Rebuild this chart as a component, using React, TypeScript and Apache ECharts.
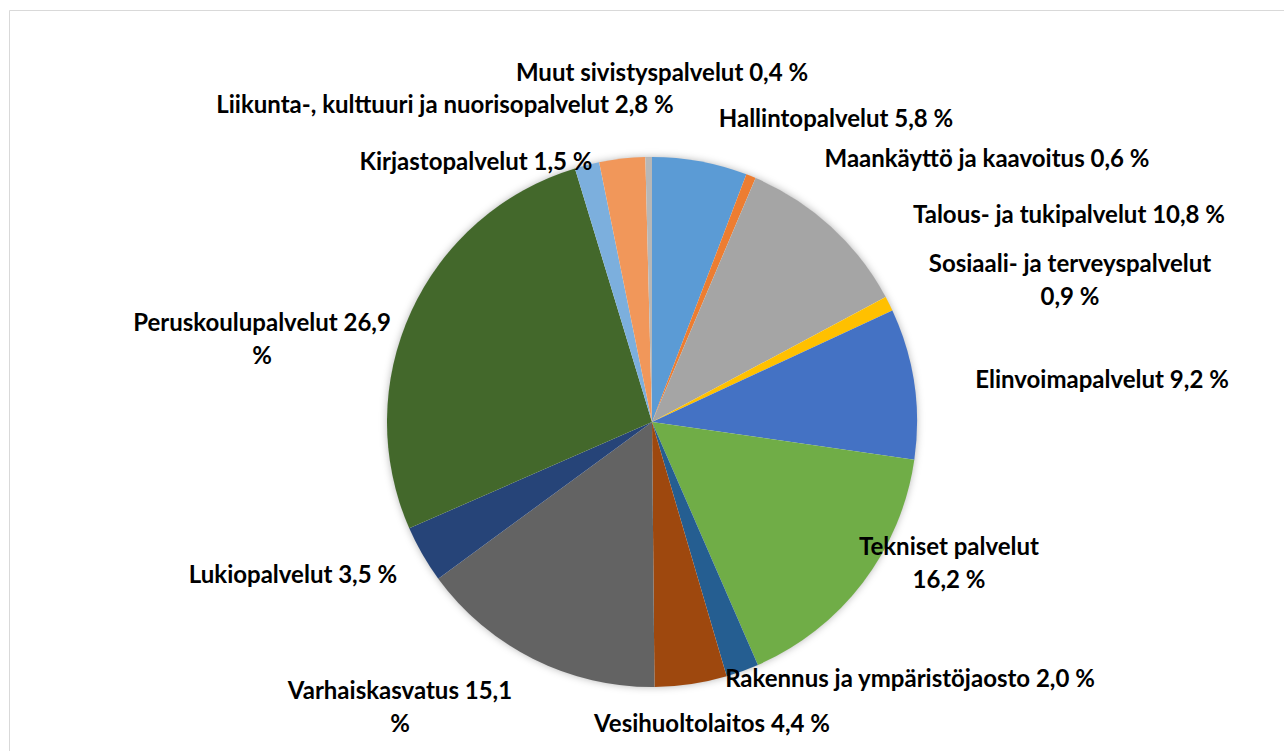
import React, { useEffect, useRef } from "react";
import * as echarts from "echarts";

const categories = [
  "Hallintopalvelut",
  "Maankäyttö ja kaavoitus",
  "Talous- ja tukipalvelut",
  "Sosiaali- ja terveyspalvelut",
  "Elinvoimapalvelut",
  "Tekniset palvelut",
  "Rakennus ja ympäristöjaosto",
  "Vesihuoltolaitos",
  "Varhaiskasvatus",
  "Lukiopalvelut",
  "Peruskoulupalvelut",
  "Kirjastopalvelut",
  "Liikunta-, kulttuuri ja nuorisopalvelut",
  "Muut sivistyspalvelut",
];

const values = [5.8, 0.6, 10.8, 0.9, 9.2, 16.2, 2.0, 4.4, 15.1, 3.5, 26.9, 1.5, 2.8, 0.4];

const colors = [
  "#5B9BD5", "#ED7D31", "#A5A5A5", "#FFC000", "#4472C4", "#70AD47", "#255E91",
  "#9E480E", "#636363", "#264478", "#43682B", "#7CAFDD", "#F1975A", "#B7B7B7",
];

// label wrapping: "name" = break after name, "pct" = break before "%"
const labelWrap: Record<number, string> = { 3: "name", 5: "name", 8: "pct", 10: "pct" };

// label centre positions (layout)
const labelPos: [number, number][] = [
  [836, 117],
  [987, 157],
  [1069, 213],
  [1070, 279],
  [1102, 378],
  [949, 562],
  [910, 677],
  [712, 722],
  [400, 706],
  [293, 573],
  [262, 338],
  [476, 160],
  [445, 103],
  [662, 71],
];

export default function App() {
  const ref = useRef<HTMLDivElement>(null);
  useEffect(() => {
    document.body.style.margin = "0";
    document.body.style.overflow = "hidden";
    const chart = echarts.init(ref.current!, undefined, { renderer: "svg" });
    chart.setOption({
      animation: false,
      backgroundColor: "#ffffff",
      graphic: [
        {
          type: "rect",
          z: 0,
          silent: true,
          shape: { x: 9.5, y: 10.5, width: 1300, height: 800 },
          style: { fill: "none", stroke: "#d9d9d9", lineWidth: 1 },
        },
        {
          type: "circle",
          z: 0,
          silent: true,
          shape: { cx: 652, cy: 422, r: 264 },
          style: { fill: "#ffffff", shadowBlur: 8, shadowColor: "rgba(0,0,0,0.35)" },
        },
      ],
      series: [
        {
          type: "pie",
          center: [652, 422],
          radius: 265,
          startAngle: 90,
          clockwise: true,
          z: 2,
          data: categories.map((name, i) => ({
            name,
            value: values[i],
            itemStyle: { color: colors[i] },
          })),
          itemStyle: { borderWidth: 0 },
          emphasis: { disabled: true },
          labelLine: { show: false },
          label: {
            show: true,
            position: "outside",
            color: "#000000",
            fontFamily: "Lato",
            fontWeight: "bold",
            fontSize: 24,
            lineHeight: 33,
            align: "center",
            formatter: (p: any) => {
              const v = values[p.dataIndex].toFixed(1).replace(".", ",");
              const w = labelWrap[p.dataIndex];
              if (w === "name") return `${p.name}\n${v} %`;
              if (w === "pct") return `${p.name} ${v}\n%`;
              return `${p.name} ${v} %`;
            },
          },
          labelLayout: (params: any) => {
            const pos = labelPos[params.dataIndex];
            return { x: pos[0], y: pos[1], align: "center", verticalAlign: "middle" };
          },
        },
      ],
    });
    return () => chart.dispose();
  }, []);
  return <div ref={ref} style={{ width: 1284, height: 751 }} />;
}
